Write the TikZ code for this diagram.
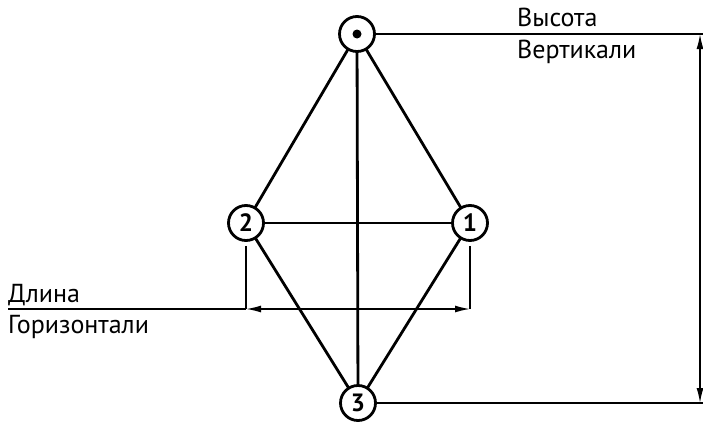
\documentclass[tikz,border=0pt]{standalone}
\usepackage{fontspec}
\setmainfont{PT Sans}
\usetikzlibrary{arrows.meta}
\begin{document}
\begin{tikzpicture}[x=1pt,y=-1pt,
  vtx/.style={circle,draw,line width=2.8pt,minimum size=35pt,inner sep=0pt,font=\fontsize{25}{26}\selectfont\bfseries,fill=white},
  edge/.style={line width=2.8pt},
  dim/.style={line width=1.5pt},
  dimarrow/.style={line width=1.5pt,{Latex[length=15pt,width=7pt]}-{Latex[length=15pt,width=7pt]}},
  lbl/.style={font=\fontsize{26}{28}\selectfont,inner sep=0pt,anchor=base west}]
\useasboundingbox (0,0) rectangle (703,423);
% edges
\coordinate (ct) at (357,34);
\coordinate (c2) at (246,223);
\coordinate (c1) at (470,223);
\coordinate (c3) at (358,403);
\draw[edge] (ct) -- (c2);
\draw[edge] (ct) -- (c1);
\draw[edge] (ct) -- (c3);
\draw[edge] (c2) -- (c1);
\draw[edge] (c2) -- (c3);
\draw[edge] (c1) -- (c3);
% nodes
\node[vtx] (t) at (ct) {};
\fill (t.center) circle (4.5pt);
\node[vtx] (n2) at (c2) {2};
\node[vtx] (n1) at (c1) {1};
\node[vtx] (n3) at (c3) {3};
% vertical dimension
\coordinate (vt) at (700,34);
\coordinate (vb) at (700,403);
\coordinate (vte) at (703,34);
\coordinate (vbe) at (703,403);
\draw[dim] (t.east) -- (vte);
\draw[dim] (n3.east) -- (vbe);
\draw[dimarrow] (vt) -- (vb);
% horizontal dimension
\coordinate (h2) at (246,309);
\coordinate (h1) at (470,309);
\coordinate (hl) at (8,309);
\draw[dim] (n2.south) ++(0,4) -- (h2);
\draw[dim] (n1.south) ++(0,4) -- (h1);
\draw[dim] (hl) -- (h2);
\draw[dimarrow] (h2) -- (h1);
% labels
\node[lbl] (lv1) at (517,26) {Высота};
\node[lbl] (lv2) at (517,58) {Вертикали};
\node[lbl] (lh1) at (8,302) {Длина};
\node[lbl] (lh2) at (8,333) {Горизонтали};
\end{tikzpicture}
\end{document}
